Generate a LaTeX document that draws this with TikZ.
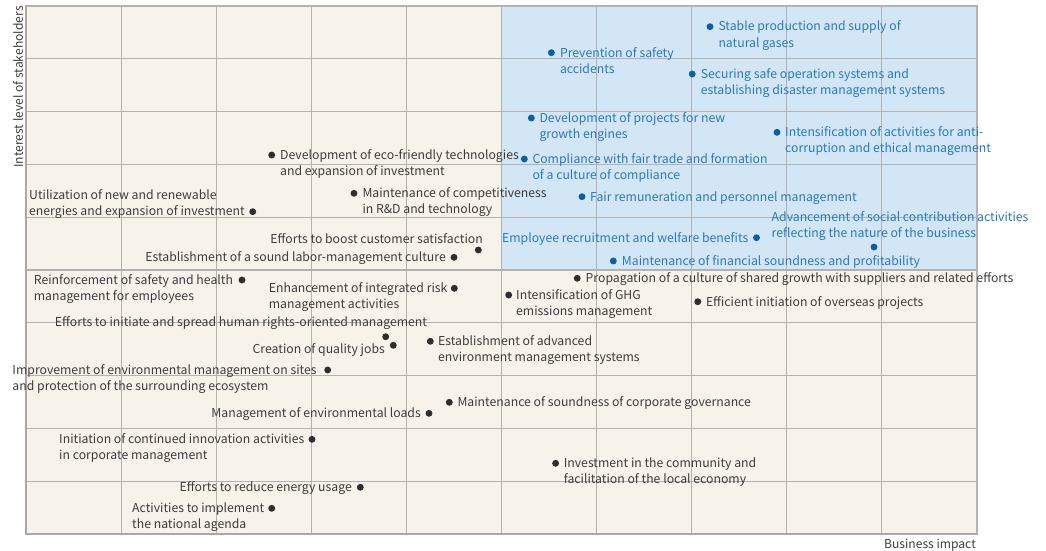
\documentclass[tikz,border=0pt]{standalone}
\usepackage{fontspec}
\setmainfont{Noto Sans CJK KR}
\definecolor{paper}{HTML}{F8F3EA}
\definecolor{hiblue}{HTML}{D3E6F5}
\definecolor{gridgray}{HTML}{B2B2B2}
\definecolor{axisgray}{HTML}{A9A9A9}
\definecolor{txtgray}{HTML}{3C3C3C}
\definecolor{txtblue}{HTML}{2A79BF}
\definecolor{dotgray}{HTML}{2E2E2E}
\definecolor{dotblue}{HTML}{0B5EA8}
\newcommand{\lblsize}{\fontsize{12.25}{16.3}\selectfont}
\newcommand{\axsize}{\fontsize{12.1}{15}\selectfont}
\newcommand{\twoline}[2]{\begin{tabular}[t]{@{}l@{}}#1\\#2\end{tabular}}
\tikzset{
  lab/.style={inner sep=0pt, font=\lblsize, text=txtgray},
  labb/.style={lab, text=txtblue},
  dotg/.style={circle, fill=dotgray, inner sep=0pt, minimum size=6.9pt},
  dotb/.style={dotg, fill=dotblue},
}
\begin{document}
\begin{tikzpicture}[x=1pt,y=-1pt]
\useasboundingbox (0,0) rectangle (1046,551);
% plot area
\fill[paper] (26,6) rectangle (977,534);
\fill[hiblue] (501.5,6) rectangle (977,271);
\foreach \i in {1,...,9} \draw[gridgray, line width=1.1pt] ({26+95.1*\i},6) -- ({26+95.1*\i},534);
\foreach \j in {1,...,9} \draw[gridgray, line width=1.1pt] (26,{6+52.8*\j}) -- (977,{6+52.8*\j});
\draw[gridgray, line width=1.2pt] (26,6) -- (977,6) -- (977,534);
\draw[axisgray, line width=2.6pt] (26,5) -- (26,534) -- (978,534);
% axis titles
\node[lab, rotate=90, font=\axsize] (ylab) at (18,87) {Interest level of stakeholders};
\node[lab, anchor=base east, font=\axsize] (xlab) at (976,548.5) {Business impact};
% --- high-priority issues (blue) ---
\node[dotb] (db1) at (710,26.7) {};
\node[labb, anchor=base west] (tb1) at (718.3,31) {\twoline{Stable production and supply of}{natural gases}};
\node[dotb] (db2) at (551.4,52.7) {};
\node[labb, anchor=base west] (tb2) at (559.8,57) {\twoline{Prevention of safety}{accidents}};
\node[dotb] (db3) at (692.2,74) {};
\node[labb, anchor=base west] (tb3) at (700.6,78.3) {\twoline{Securing safe operation systems and}{establishing disaster management systems}};
\node[dotb] (db4) at (531.3,118) {};
\node[labb, anchor=base west] (tb4) at (539.3,122.3) {\twoline{Development of projects for new}{growth engines}};
\node[dotb] (db5) at (777,132.3) {};
\node[labb, anchor=base west] (tb5) at (785,136.6) {\twoline{Intensification of activities for anti-}{corruption and ethical management}};
\node[dotb] (db6) at (524.3,159) {};
\node[labb, anchor=base west] (tb6) at (532.3,163.3) {\twoline{Compliance with fair trade and formation}{of a culture of compliance}};
\node[dotb] (db7) at (582,196.7) {};
\node[labb, anchor=base west] (tb7) at (590,201) {Fair remuneration and personnel management};
\node[labb, anchor=base west] (tb8) at (771.5,221.6) {\twoline{Advancement of social contribution activities}{reflecting the nature of the business}};
\node[dotb] (db8) at (874,247) {};
\node[labb, anchor=base east] (tb9) at (748.5,242) {Employee recruitment and welfare benefits};
\node[dotb] (db9) at (756.5,237.7) {};
\node[dotb] (db10) at (613.3,261) {};
\node[labb, anchor=base west] (tb10) at (621.7,265.3) {Maintenance of financial soundness and profitability};
% --- other issues (gray) ---
\node[dotg] (dg1) at (271.7,155) {};
\node[lab, anchor=base west] (tg1) at (280,159.3) {\twoline{Development of eco-friendly technologies}{and expansion of investment}};
\node[lab, anchor=base west] (tg2) at (29,199.3) {\twoline{Utilization of new and renewable}{energies and expansion of investment}};
\node[dotg] (dg2) at (252.7,211.7) {};
\node[dotg] (dg3) at (354,193.3) {};
\node[lab, anchor=base west] (tg3) at (362.3,197.6) {\twoline{Maintenance of competitiveness}{in R\&D and technology}};
\node[lab, anchor=base east] (tg4) at (483,243.6) {Efforts to boost customer satisfaction};
\node[dotg] (dg4) at (478.3,250) {};
\node[lab, anchor=base east] (tg5) at (446,261.6) {Establishment of a sound labor-management culture};
\node[dotg] (dg5) at (454,257.3) {};
\node[lab, anchor=base west] (tg6) at (33.7,284.3) {\twoline{Reinforcement of safety and health}{management for employees}};
\node[dotg] (dg6) at (242,280) {};
\node[lab, anchor=base west] (tg7) at (268.7,292.6) {\twoline{Enhancement of integrated risk}{management activities}};
\node[dotg] (dg7) at (454.3,288.3) {};
\node[dotg] (dg8) at (577.2,278.3) {};
\node[lab, anchor=base west] (tg8) at (585.5,282.6) {Propagation of a culture of shared growth with suppliers and related efforts};
\node[dotg] (dg9) at (508.7,295) {};
\node[lab, anchor=base west] (tg9) at (516,299.3) {\twoline{Intensification of GHG}{emissions management}};
\node[dotg] (dg10) at (697.8,301.7) {};
\node[lab, anchor=base west] (tg10) at (705.8,306) {Efficient initiation of overseas projects};
\node[lab, anchor=base west] (tg11) at (54.7,326) {Efforts to initiate and spread human rights-oriented management};
\node[dotg] (dg11) at (385.7,336.7) {};
\node[lab, anchor=base east] (tg12) at (385,353.6) {Creation of quality jobs};
\node[dotg] (dg12) at (393.3,345.3) {};
\node[dotg] (dg13) at (430.3,341.3) {};
\node[lab, anchor=base west] (tg13) at (438,345.6) {\twoline{Establishment of advanced}{environment management systems}};
\node[lab, anchor=base west] (tg14) at (12.3,374.3) {\twoline{Improvement of environmental management on sites}{and protection of the surrounding ecosystem}};
\node[dotg] (dg14) at (327.7,370) {};
\node[dotg] (dg15) at (449.3,402.3) {};
\node[lab, anchor=base west] (tg15) at (457.3,406.6) {Maintenance of soundness of corporate governance};
\node[lab, anchor=base east] (tg16) at (421,417.6) {Management of environmental loads};
\node[dotg] (dg16) at (429,413.3) {};
\node[lab, anchor=base west] (tg17) at (59,443.6) {\twoline{Initiation of continued innovation activities}{in corporate management}};
\node[dotg] (dg17) at (312,439.3) {};
\node[dotg] (dg18) at (555.6,463.3) {};
\node[lab, anchor=base west] (tg18) at (563.6,467.6) {\twoline{Investment in the community and}{facilitation of the local economy}};
\node[lab, anchor=base east] (tg19) at (352,491.6) {Efforts to reduce energy usage};
\node[dotg] (dg19) at (360.3,487.3) {};
\node[lab, anchor=base west] (tg20) at (132,512.6) {\twoline{Activities to implement}{the national agenda}};
\node[dotg] (dg20) at (271.7,508.3) {};
\end{tikzpicture}
\end{document}
